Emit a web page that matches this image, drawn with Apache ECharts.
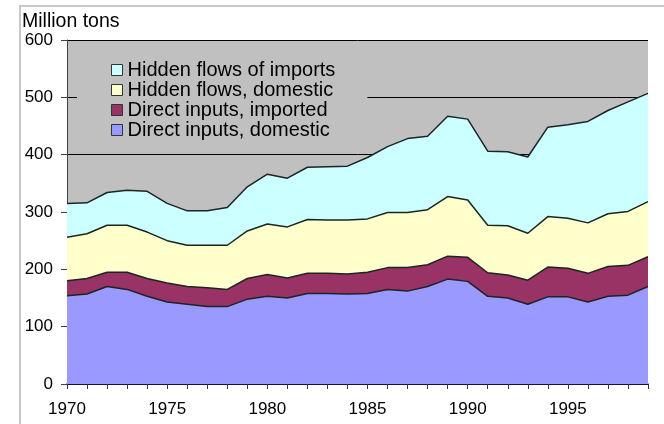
<!DOCTYPE html>
<html>
<head>
<meta charset="utf-8">
<script src="https://cdn.jsdelivr.net/npm/echarts@6/dist/echarts.min.js"></script>
<style>
  html, body { margin: 0; padding: 0; background: #fff; }
  #chart-container { width: 664px; height: 424px; }
</style>
</head>
<body>
<div id="chart-container"></div>
<script>
// years on the x axis
var years = ['1970','1971','1972','1973','1974','1975','1976','1977','1978','1979',
             '1980','1981','1982','1983','1984','1985','1986','1987','1988','1989',
             '1990','1991','1992','1993','1994','1995','1996','1997','1998','1999'];

// million tons (stacked bottom to top)
var directDomestic = [154, 157, 170, 165, 153, 143, 139, 135, 135, 148,
                      153, 150, 158, 158, 157, 158, 165, 162, 170, 183,
                      179, 153, 150, 139, 152, 152, 143, 153, 155, 170];
var directImported = [26, 27, 25, 30, 31, 33, 31, 33, 30, 36,
                      38, 35, 35, 35, 35, 37, 38, 41, 38, 40,
                      42, 41, 40, 42, 52, 50, 50, 52, 52, 52];
var hiddenDomestic = [76, 78, 82, 82, 81, 74, 72, 74, 77, 83,
                      88, 89, 94, 93, 94, 93, 96, 96, 96, 104,
                      100, 83, 86, 82, 88, 87, 88, 92, 94, 96];
var hiddenImports = [59, 54, 57, 61, 71, 65, 60, 60, 66, 77,
                     87, 85, 91, 93, 94, 107, 115, 129, 128, 140,
                     141, 129, 129, 133, 156, 163, 177, 180, 191, 189];

var legendNames = ['Hidden flows of imports', 'Hidden flows, domestic',
                   'Direct inputs, imported', 'Direct inputs, domestic'];

var font = '"Liberation Sans", Arial, sans-serif';

var dom = document.getElementById('chart-container');
var myChart = echarts.init(dom, null, { renderer: 'canvas' });

function layer(name, values, color) {
    return {
        name: name,
        type: 'line',
        stack: 'total',
        data: values,
        symbol: 'none',
        smooth: false,
        animation: false,
        lineStyle: { color: '#1c2424', width: 1.5 },
        itemStyle: { color: color },
        areaStyle: { color: color, opacity: 1 }
    };
}

var option = {
    animation: false,
    title: {
        text: 'Million tons',
        left: 22,
        top: 12,
        padding: 0,
        textStyle: { fontFamily: font, fontSize: 19.5, fontWeight: 'normal', color: '#000' }
    },
    graphic: [{
        type: 'rect',
        shape: { x: 20, y: 6, width: 700, height: 500 },
        style: { fill: 'none', stroke: '#c8c8c8', lineWidth: 2 },
        z: -10
    }],
    grid: {
        left: 67,
        right: 16,
        top: 40,
        bottom: 40,
        show: true,
        backgroundColor: '#c0c0c0',
        borderWidth: 0
    },
    legend: {
        data: legendNames,
        orient: 'vertical',
        left: 77,
        top: 52,
        padding: [8, 32, 8, 34],
        backgroundColor: '#c0c0c0',
        itemGap: 0,
        itemWidth: 11,
        itemHeight: 11,
        icon: 'rect',
        itemStyle: { borderColor: '#333', borderWidth: 1 },
        textStyle: { fontFamily: font, fontSize: 20, lineHeight: 19.3, color: '#000' },
        selectedMode: false
    },
    xAxis: {
        type: 'category',
        data: years,
        boundaryGap: false,
        axisLine: { lineStyle: { color: '#1a1a4a', width: 1.5 } },
        axisTick: { show: true, interval: 0, length: 5, lineStyle: { color: '#333' } },
        axisLabel: {
            interval: function (idx, val) { return Number(val) % 5 === 0; },
            fontFamily: font,
            fontSize: 17,
            color: '#000',
            margin: 17
        },
        splitLine: { show: false }
    },
    yAxis: {
        type: 'value',
        min: 0,
        max: 600,
        interval: 100,
        axisLine: { show: true, lineStyle: { color: '#444', width: 1 } },
        axisTick: { show: true, length: 6, lineStyle: { color: '#444' } },
        axisLabel: { fontFamily: font, fontSize: 17, color: '#000', margin: 14 },
        splitLine: { show: true, lineStyle: { color: '#000', width: 1 } }
    },
    series: [
        layer('Direct inputs, domestic', directDomestic, '#9999ff'),
        layer('Direct inputs, imported', directImported, '#993366'),
        layer('Hidden flows, domestic', hiddenDomestic, '#ffffcc'),
        layer('Hidden flows of imports', hiddenImports, '#ccffff')
    ]
};

myChart.setOption(option);
window.addEventListener('resize', myChart.resize);
</script>
</body>
</html>
